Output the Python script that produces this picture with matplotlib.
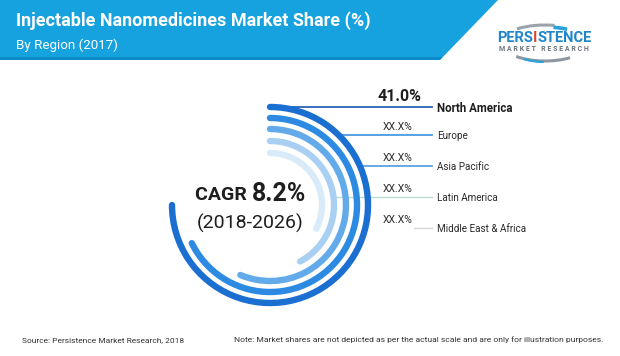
import matplotlib.pyplot as plt
from matplotlib.patches import Arc, Polygon

# data
regions = ['North America', 'Europe', 'Asia Pacific', 'Latin America', 'Middle East & Africa']
share_text = ['41.0%', 'XX.X%', 'XX.X%', 'XX.X%', 'XX.X%']
arc_sweep = [270, 244, 203, 152, 117]   # illustrative only (see note)
cagr = 8.2
cagr_period = '(2018-2026)'

title = 'Injectable Nanomedicines Market Share (%)'
subtitle = 'By Region (2017)'
source = 'Source: Persistence Market Research, 2018'
note = 'Note: Market shares are not depicted as per the actual scale and are only for illustration purposes.'

arc_colors = ['#1b6fd0', '#2c8ae2', '#62aaea', '#a9d0f2', '#d9ebf9']
line_colors = ['#2a63b8', '#4b9ae0', '#5aa3e4', '#bcdcd6', '#d2d6d8']

plt.rcParams['font.family'] = ['Roboto', 'DejaVu Sans']

fig = plt.figure(figsize=(6.2, 3.56), dpi=100)
ax = fig.add_axes([0, 0, 1, 1])
ax.set_xlim(0, 620)
ax.set_ylim(356, 0)
ax.axis('off')

# header band
ax.add_patch(Polygon([(0, 0), (498, 0), (440, 60), (0, 60)], closed=True,
                     facecolor='#16a2de', edgecolor='none'))
ax.add_patch(Polygon([(0, 57), (442.5, 57), (440, 60), (0, 60)], closed=True,
                     facecolor='#0d8ccb', edgecolor='none'))
ax.text(16, 21, title, color='white', fontsize=13, fontweight='bold', va='center', ha='left')
ax.text(16, 45, subtitle, color='white', fontsize=9.6, va='center', ha='left')

# logo (y axis is inverted, so 180-360 is the upper half)
ax.add_patch(Arc((545, 42), 88, 34, theta1=205, theta2=300, color='#9aa3ab', lw=2.2))
ax.add_patch(Arc((545, 42), 84, 30, theta1=300, theta2=330, color='#2aa1dc', lw=2.6))
ax.add_patch(Arc((545, 46), 80, 30, theta1=25, theta2=160, color='#8e979f', lw=2.2))
ax.add_patch(Arc((545, 47), 70, 30, theta1=95, theta2=150, color='#2aa1dc', lw=1.6))
x0 = 497
for part, col in [('PERS', '#1f86c9'), ('I', '#e0452c'), ('STENCE', '#1f86c9')]:
    t = ax.text(x0, 38, part, color=col, fontsize=10.5, fontweight='bold', va='center', ha='left')
    fig.canvas.draw()
    x0 += t.get_window_extent().width
ax.text(544, 49, 'M A R K E T   R E S E A R C H', color='#6b7278', fontsize=5,
        fontweight='bold', va='center', ha='center')

# arcs
cx, cy = 270, 205
radii = [98, 87, 76, 64, 52]
for r, sw, c in zip(radii, arc_sweep, arc_colors):
    ax.add_patch(Arc((cx, cy), 2 * r, 2 * r, theta1=270, theta2=270 + sw,
                     color=c, lw=4.6, capstyle='round'))

# leader lines + labels
rows_y = [107, 135, 166, 197, 228]
line_start = [270, 338, 360, 332, 414]
for i, (name, val) in enumerate(zip(regions, share_text)):
    y = rows_y[i]
    ax.plot([line_start[i], 432], [y, y], color=line_colors[i], lw=1.3 if i < 3 else 1.0,
            zorder=0)
    if i == 0:
        ax.text(400, y - 3, val, fontsize=11.5, fontweight='bold', color='#1e1e1e',
                ha='center', va='bottom')
        ax.text(437, y + 1, name, fontsize=8.3, fontweight='bold', color='#1e1e1e',
                ha='left', va='center')
    else:
        ax.text(398, y - 3, val, fontsize=7.5, color='#2a2a2a', ha='center', va='bottom')
        ax.text(437, y + 1, name, fontsize=7.1, color='#2a2a2a', ha='left', va='center')

# CAGR
t1 = ax.text(195, 195, 'CAGR ', fontsize=14, fontweight='bold', color='#1e1e1e',
             ha='left', va='center')
fig.canvas.draw()
w = t1.get_window_extent().width
ax.text(195 + w, 194, f'{cagr}%', fontsize=18, fontweight='bold', color='#1e1e1e',
        ha='left', va='center')
ax.text(250, 223, cagr_period, fontsize=14, color='#1e1e1e', ha='center', va='center')

# footer
ax.text(22, 340, source, fontsize=6.0, color='#333333', ha='left', va='center')
ax.text(234, 340, note, fontsize=6.1, color='#333333', ha='left', va='center')

fig.savefig('out.png', dpi=100)
